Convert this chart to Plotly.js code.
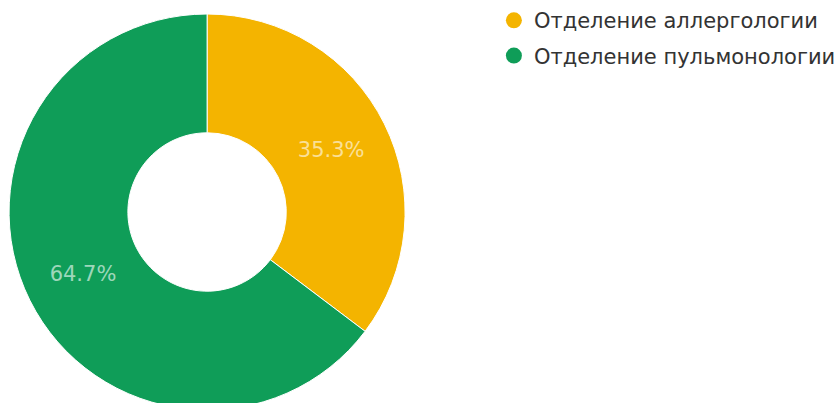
<!DOCTYPE html>
<html>
<head>
<meta charset="utf-8">
<script src="https://cdn.plot.ly/plotly-3.0.1.min.js"></script>
<style>
html, body { margin: 0; padding: 0; background: #fff; overflow: hidden; }
#wrap { width: 835px; height: 403px; overflow: hidden; }
#chart { width: 835px; height: 424px; }
</style>
</head>
<body>
<div id="wrap"><div id="chart"></div></div>
<script>
const labels = ["Отделение аллергологии", "Отделение пульмонологии"];
const values = [6, 11];
const colors = ["#F4B400", "#0F9D58"];

const pie = {
  type: "pie",
  labels: labels,
  values: values,
  hole: 0.4,
  sort: false,
  direction: "clockwise",
  rotation: 0,
  marker: { colors: colors, line: { color: "#ffffff", width: 1 } },
  textinfo: "percent",
  texttemplate: "%{percent:.1%}",
  textposition: "inside",
  insidetextorientation: "horizontal",
  textfont: { family: "DejaVu Sans", size: 21, color: "rgba(255,255,255,0.6)" },
  domain: { x: [0.0095, 0.4865], y: [0, 1] },
  showlegend: false,
  hoverinfo: "none"
};

const legendTraces = labels.map((name, i) => ({
  type: "scatter",
  mode: "markers",
  x: [null],
  y: [null],
  name: name,
  legendgroup: "g" + i,
  marker: { symbol: "circle", size: 18, color: colors[i] },
  showlegend: true,
  hoverinfo: "none"
}));

const layout = {
  width: 835,
  height: 424,
  margin: { l: 0, r: 0, t: 14, b: 14, autoexpand: false },
  paper_bgcolor: "#ffffff",
  plot_bgcolor: "#ffffff",
  xaxis: { visible: false },
  yaxis: { visible: false },
  showlegend: true,
  legend: {
    x: 0.5915, xanchor: "left",
    y: 1.035, yanchor: "top",
    traceorder: "grouped",
    tracegroupgap: 5,
    font: { family: "DejaVu Sans", size: 21, color: "#333333" },
    bgcolor: "rgba(0,0,0,0)"
  },
  font: { family: "DejaVu Sans" }
};

Plotly.newPlot("chart", [pie].concat(legendTraces), layout, { displayModeBar: false, staticPlot: true });
</script>
</body>
</html>
